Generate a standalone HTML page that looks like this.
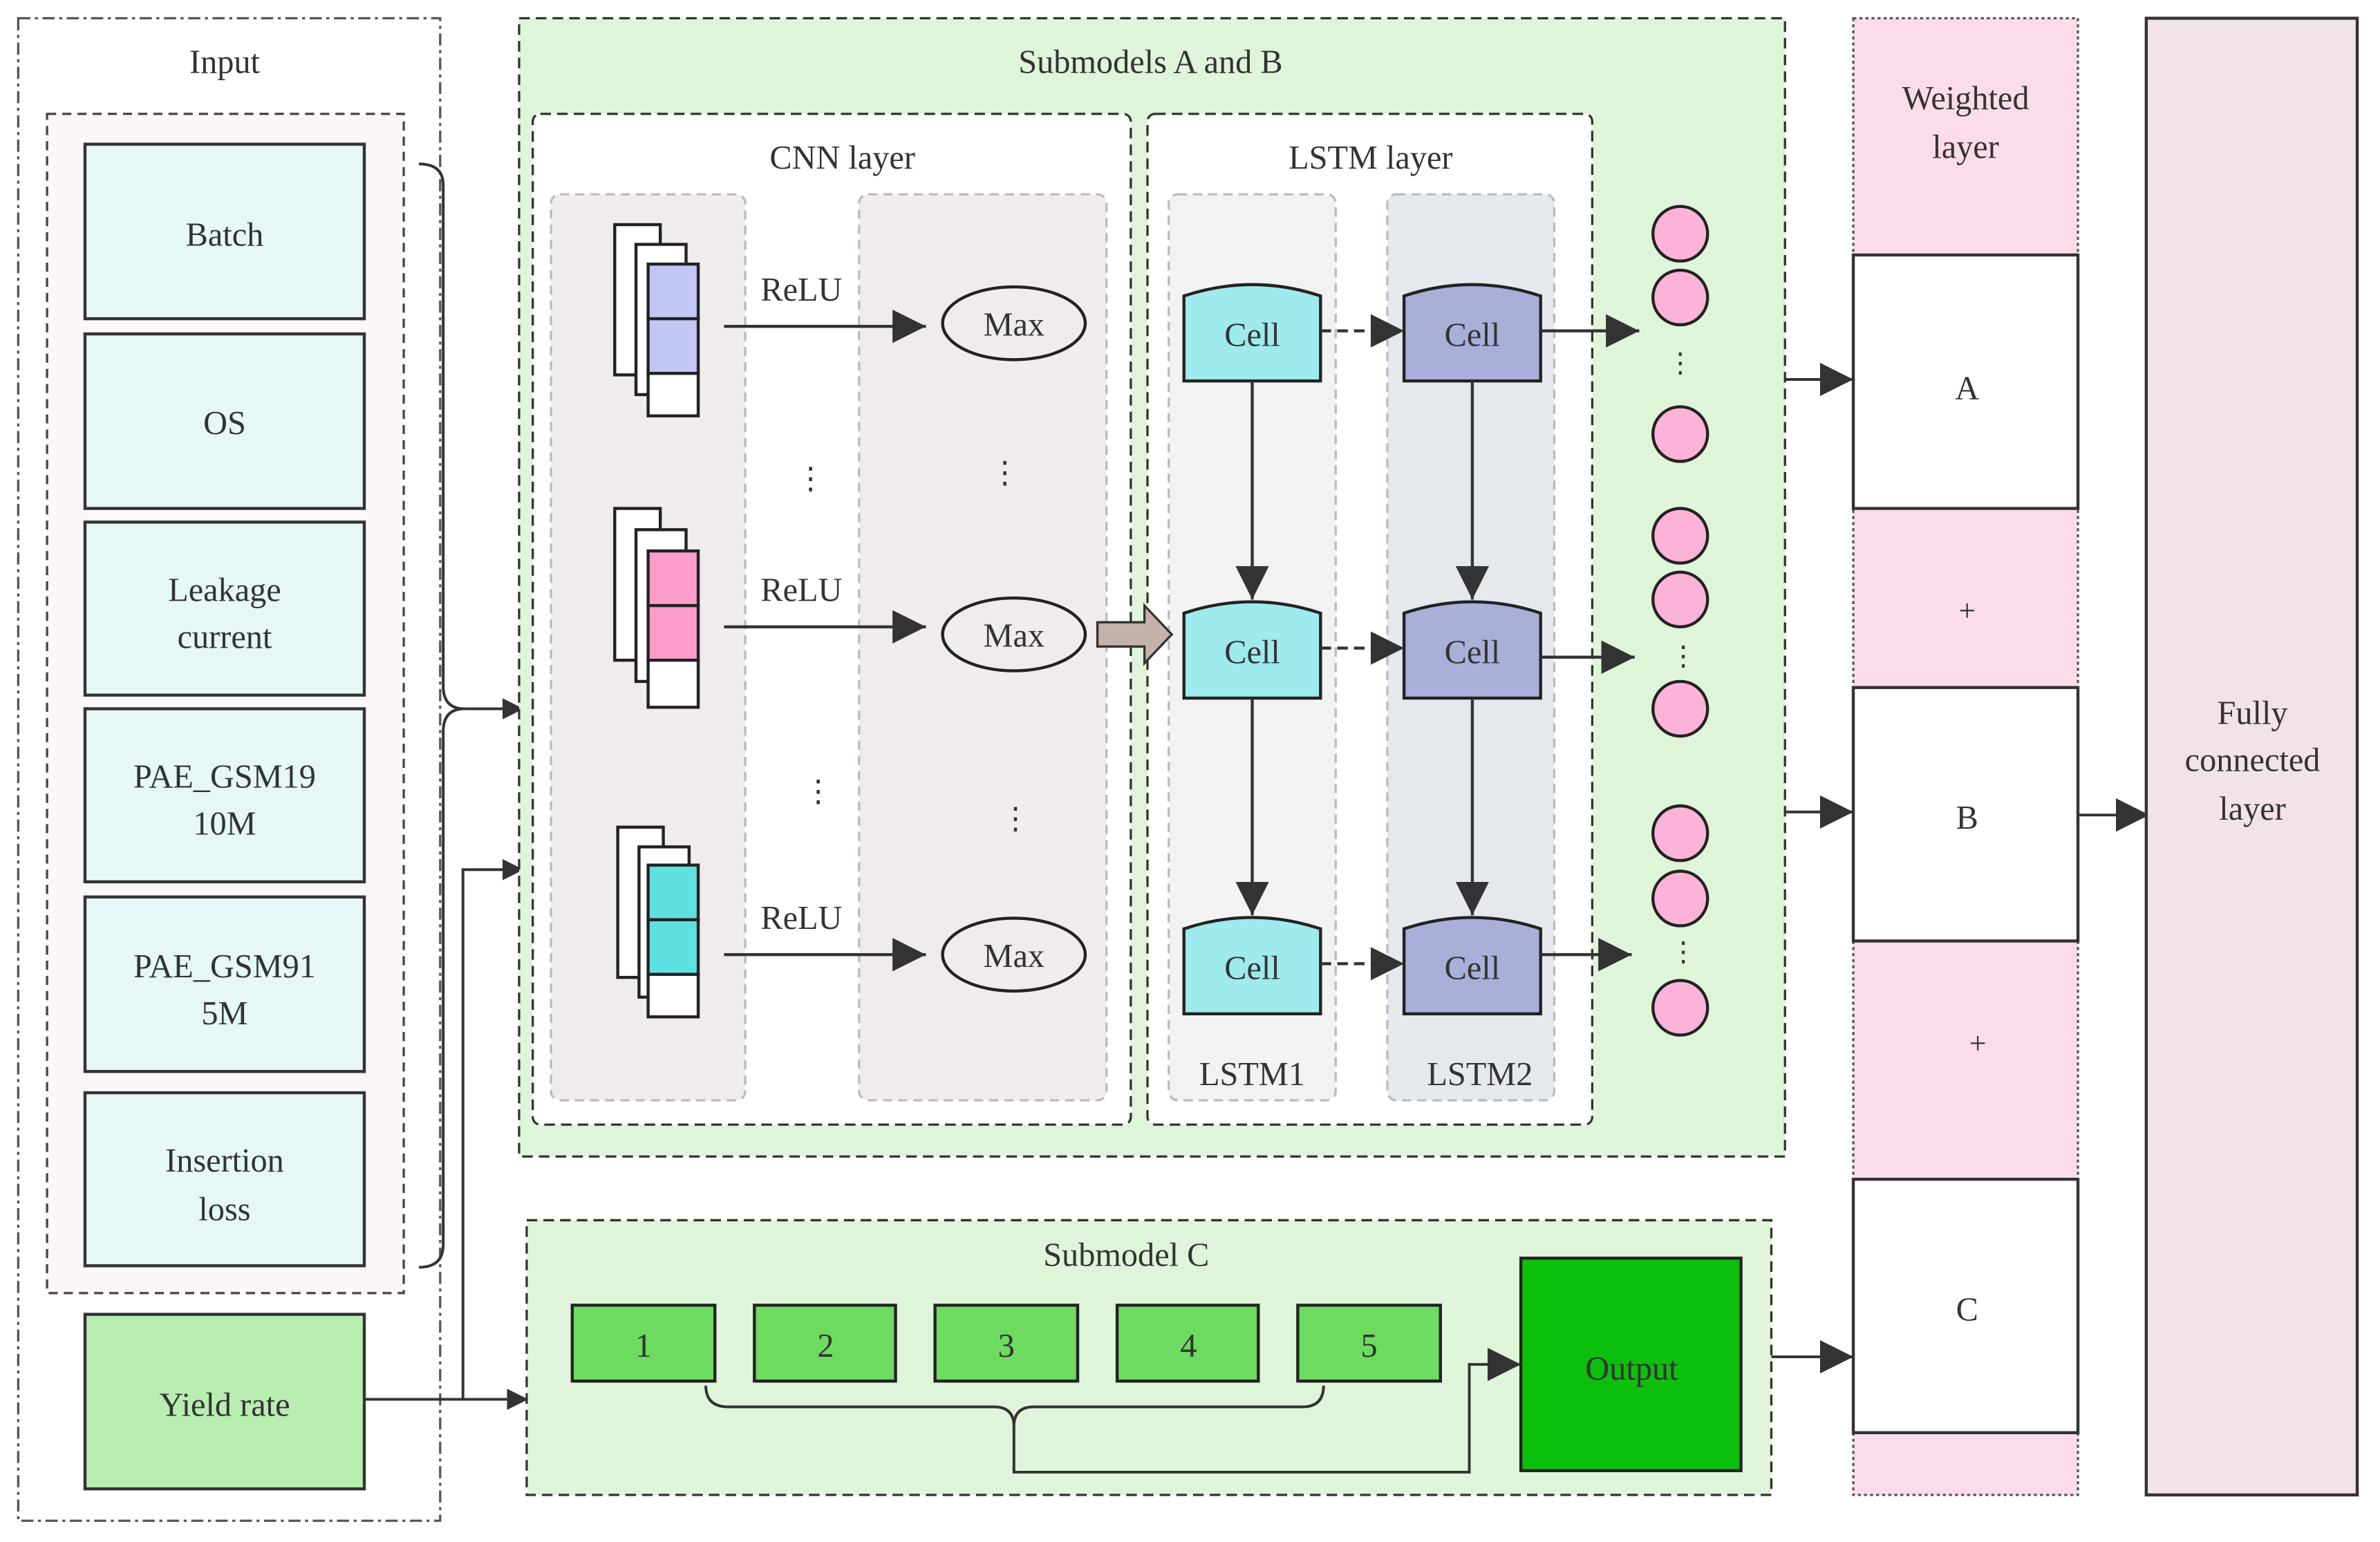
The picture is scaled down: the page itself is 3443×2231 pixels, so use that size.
<!DOCTYPE html>
<html><head><meta charset="utf-8"><style>html,body{margin:0;padding:0;background:#fff}svg{display:block}</style></head><body>
<svg width="3443" height="2231" viewBox="0 0 1568 1016" xmlns="http://www.w3.org/2000/svg">
<defs><marker id="a" viewBox="0 0 10 10" refX="10" refY="5" markerWidth="14" markerHeight="14" orient="auto" markerUnits="userSpaceOnUse"><path d="M0,0L10,5L0,10z" fill="#333"/></marker>
<marker id="b" viewBox="0 0 10 10" refX="10" refY="5" markerWidth="22" markerHeight="22" orient="auto" markerUnits="userSpaceOnUse"><path d="M0,0L10,5L0,10z" fill="#333"/></marker></defs>
<g font-size="22" text-anchor="middle" font-family="'Liberation Serif','DejaVu Serif',serif" fill="#333">
<!-- Input -->
<rect x="12" y="12" width="278" height="990" fill="#fff" stroke="#555" stroke-width="1.5" stroke-dasharray="8,3,2,3"/>
<text x="148" y="48">Input</text>
<rect x="31" y="75" width="235" height="777" fill="#fbf6fa" stroke="#444" stroke-width="1.5" stroke-dasharray="6,4"/>
<g fill="#e5f7f7" stroke="#333" stroke-width="2">
<rect x="56" y="95" width="184" height="115"/><rect x="56" y="220" width="184" height="115"/><rect x="56" y="344" width="184" height="114"/><rect x="56" y="467" width="184" height="114"/><rect x="56" y="591" width="184" height="115"/><rect x="56" y="720" width="184" height="114"/></g>
<rect x="56" y="866" width="184" height="115" fill="#b8eeb0" stroke="#333" stroke-width="2"/>
<text x="148" y="162">Batch</text><text x="148" y="286">OS</text>
<text x="148" y="396">Leakage</text><text x="148" y="427">current</text>
<text x="148" y="519">PAE_GSM19</text><text x="148" y="550">10M</text>
<text x="148" y="644">PAE_GSM91</text><text x="148" y="675">5M</text>
<text x="148" y="772">Insertion</text><text x="148" y="804">loss</text>
<text x="148" y="933">Yield rate</text>
<g fill="none" stroke="#333" stroke-width="1.8">
<path d="M276,108 Q292,108 292,122 L292,452 Q292,467 306,467 Q292,467 292,482 L292,820 Q292,835 276,835"/>
<path d="M306,467 L345,467" marker-end="url(#a)"/>
<path d="M240,922 L348,922" marker-end="url(#a)"/>
<path d="M305,922 L305,573 L345,573" marker-end="url(#a)"/>
</g>
<!-- Submodels A and B -->
<rect x="342" y="12" width="834" height="750" fill="#dff5d9" stroke="#333" stroke-width="1.5" stroke-dasharray="7,4"/>
<text x="758" y="48">Submodels A and B</text>
<rect x="351" y="75" width="394" height="666" rx="5" fill="#fff" stroke="#333" stroke-width="1.5" stroke-dasharray="7,4"/>
<rect x="756" y="75" width="293" height="666" rx="5" fill="#fff" stroke="#333" stroke-width="1.5" stroke-dasharray="7,4"/>
<text x="555" y="111">CNN layer</text><text x="903" y="111">LSTM layer</text>
<g stroke="#bbb" stroke-width="1.5" stroke-dasharray="6,4">
<rect x="363" y="128" width="128" height="597" rx="6" fill="#f1ecec"/>
<rect x="566" y="128" width="163" height="597" rx="6" fill="#f1ecec"/>
<rect x="770" y="128" width="110" height="597" rx="6" fill="#f2f2f2"/>
<rect x="914" y="128" width="110" height="597" rx="6" fill="#e5e9ed"/></g>
<!-- feature map stacks -->
<g stroke="#222" stroke-width="2">
<rect x="405" y="148" width="30" height="99" fill="#fff"/><rect x="419" y="161" width="33" height="99" fill="#fff"/>
<rect x="427" y="174" width="33" height="36" fill="#c2c6f4"/><rect x="427" y="210" width="33" height="36" fill="#c2c6f4"/><rect x="427" y="246" width="33" height="28" fill="#fff"/>
<rect x="405" y="335" width="30" height="100" fill="#fff"/><rect x="419" y="349" width="33" height="100" fill="#fff"/>
<rect x="427" y="363" width="33" height="36" fill="#fb9ccb"/><rect x="427" y="399" width="33" height="36" fill="#fb9ccb"/><rect x="427" y="435" width="33" height="31" fill="#fff"/>
<rect x="407" y="545" width="30" height="99" fill="#fff"/><rect x="421" y="558" width="33" height="99" fill="#fff"/>
<rect x="427" y="570" width="33" height="36" fill="#5ee0e0"/><rect x="427" y="606" width="33" height="36" fill="#5ee0e0"/><rect x="427" y="642" width="33" height="28" fill="#fff"/>
</g>
<g stroke="#333" stroke-width="2" fill="none">
<path d="M477,215 L610,215" marker-end="url(#b)"/><path d="M477,413 L610,413" marker-end="url(#b)"/><path d="M477,629 L610,629" marker-end="url(#b)"/></g>
<text x="528" y="198">ReLU</text><text x="528" y="396">ReLU</text><text x="528" y="612">ReLU</text>
<g fill="#f1ecec" stroke="#222" stroke-width="2"><ellipse cx="668" cy="213" rx="47" ry="24"/><ellipse cx="668" cy="418" rx="47" ry="24"/><ellipse cx="668" cy="629" rx="47" ry="24"/></g>
<text x="668" y="221">Max</text><text x="668" y="426">Max</text><text x="668" y="637">Max</text>
<g font-size="20"><text x="534" y="322">⋮</text><text x="662" y="318">⋮</text><text x="539" y="528">⋮</text><text x="669" y="546">⋮</text></g>
<path d="M723,410 L754,410 L754,399 L772,418 L754,437 L754,426 L723,426 Z" fill="#c4b2ab" stroke="#333" stroke-width="1.5"/>
<!-- cells -->
<g stroke="#222" stroke-width="2">
<path d="M780,195 Q825,180 870,195 L870,251 L780,251 Z" fill="#9eeaec"/>
<path d="M780,404 Q825,389 870,404 L870,460 L780,460 Z" fill="#9eeaec"/>
<path d="M780,612 Q825,597 870,612 L870,668 L780,668 Z" fill="#9eeaec"/>
<path d="M925,195 Q970,180 1015,195 L1015,251 L925,251 Z" fill="#a9afd8"/>
<path d="M925,404 Q970,389 1015,404 L1015,460 L925,460 Z" fill="#a9afd8"/>
<path d="M925,612 Q970,597 1015,612 L1015,668 L925,668 Z" fill="#a9afd8"/>
</g>
<text x="825" y="228">Cell</text><text x="825" y="437">Cell</text><text x="825" y="645">Cell</text>
<text x="970" y="228">Cell</text><text x="970" y="437">Cell</text><text x="970" y="645">Cell</text>
<text x="825" y="715">LSTM1</text><text x="975" y="715">LSTM2</text>
<g stroke="#333" stroke-width="2" fill="none">
<path d="M825,251 L825,395" marker-end="url(#b)"/><path d="M825,460 L825,603" marker-end="url(#b)"/>
<path d="M970,251 L970,395" marker-end="url(#b)"/><path d="M970,460 L970,603" marker-end="url(#b)"/>
<g stroke-dasharray="7,4"><path d="M870,218 L925,218" marker-end="url(#b)"/><path d="M870,427 L925,427" marker-end="url(#b)"/><path d="M870,635 L925,635" marker-end="url(#b)"/></g>
<path d="M1015,218 L1080,218" marker-end="url(#b)"/><path d="M1015,433 L1077,433" marker-end="url(#b)"/><path d="M1015,629 L1075,629" marker-end="url(#b)"/>
</g>
<g fill="#fdb3d8" stroke="#222" stroke-width="2">
<circle cx="1107" cy="154" r="18"/><circle cx="1107" cy="196" r="18"/><circle cx="1107" cy="286" r="18"/>
<circle cx="1107" cy="353" r="18"/><circle cx="1107" cy="395" r="18"/><circle cx="1107" cy="467" r="18"/>
<circle cx="1107" cy="549" r="18"/><circle cx="1107" cy="592" r="18"/><circle cx="1107" cy="664" r="18"/></g>
<g font-size="18"><text x="1107" y="245">⋮</text><text x="1109" y="438">⋮</text><text x="1109" y="633">⋮</text></g>
<!-- Submodel C -->
<rect x="347" y="804" width="820" height="181" fill="#dff5d9" stroke="#333" stroke-width="1.5" stroke-dasharray="7,4"/>
<text x="742" y="834">Submodel C</text>
<g fill="#6ddb5f" stroke="#222" stroke-width="2">
<rect x="377" y="860" width="94" height="50"/><rect x="497" y="860" width="93" height="50"/><rect x="616" y="860" width="94" height="50"/><rect x="736" y="860" width="93" height="50"/><rect x="855" y="860" width="94" height="50"/></g>
<text x="424" y="894">1</text><text x="544" y="894">2</text><text x="663" y="894">3</text><text x="783" y="894">4</text><text x="902" y="894">5</text>
<rect x="1002" y="829" width="145" height="140" fill="#0dbf0d" stroke="#222" stroke-width="2"/>
<text x="1075" y="909">Output</text>
<g stroke="#333" stroke-width="1.8" fill="none">
<path d="M465,913 Q465,927 480,927 L655,927 Q668,927 668,940 Q668,927 681,927 L858,927 Q872,927 872,913"/>
<path d="M668,940 L668,970 L968,970 L968,899 L1002,899" marker-end="url(#b)"/>
<path d="M1176,250 L1221,250" marker-end="url(#b)"/><path d="M1176,535 L1221,535" marker-end="url(#b)"/><path d="M1167,894 L1221,894" marker-end="url(#b)"/>
<path d="M1369,537 L1416,537" marker-end="url(#b)"/>
</g>
<!-- Weighted layer -->
<rect x="1221" y="12" width="148" height="973" fill="#fcdcea" stroke="#555" stroke-width="1.5" stroke-dasharray="2,2"/>
<text x="1295" y="72">Weighted</text><text x="1295" y="104">layer</text>
<g fill="#fff" stroke="#333" stroke-width="2"><rect x="1221" y="168" width="148" height="167"/><rect x="1221" y="453" width="148" height="167"/><rect x="1221" y="777" width="148" height="167"/></g>
<text x="1296" y="263">A</text><text x="1296" y="546">B</text><text x="1296" y="870">C</text>
<text x="1296" y="409" font-size="20">+</text><text x="1303" y="694" font-size="20">+</text>
<!-- Fully connected -->
<rect x="1414" y="12" width="139" height="973" fill="#f2e2ea" stroke="#333" stroke-width="2"/>
<text x="1484" y="477">Fully</text><text x="1484" y="508">connected</text><text x="1484" y="540">layer</text>
</g>
</svg>
</body></html>
